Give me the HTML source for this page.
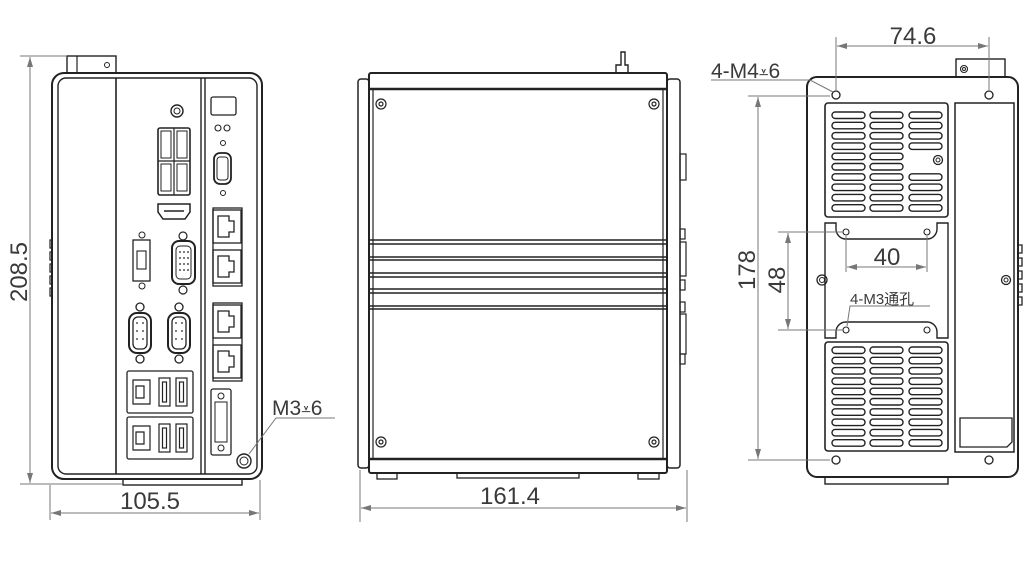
<!DOCTYPE html>
<html><head><meta charset="utf-8"><style>
html,body{margin:0;padding:0;background:#fff;}
svg{display:block;}
text{font-family:"Liberation Sans","Noto Sans CJK SC",sans-serif;fill:#3a3a3a;}
</style></head><body>
<svg width="1024" height="562" viewBox="0 0 1024 562" xmlns="http://www.w3.org/2000/svg">
<defs>
<marker id="ar" viewBox="0 0 10 6" refX="10" refY="3" markerWidth="10" markerHeight="6" orient="auto-start-reverse" markerUnits="userSpaceOnUse"><path d="M0,0 L10,3 L0,6 Z" fill="#777"/></marker>
<g id="row3" fill="none" stroke="#222" stroke-width="1.4"><rect x="832" y="0" width="33" height="6.5" rx="3.2"/><rect x="870" y="0" width="33" height="6.5" rx="3.2"/><rect x="909" y="0" width="33" height="6.5" rx="3.2"/></g>
<g id="row2" fill="none" stroke="#222" stroke-width="1.4"><rect x="832" y="0" width="33" height="6.5" rx="3.2"/><rect x="870" y="0" width="33" height="6.5" rx="3.2"/></g>
<g id="lan" fill="none" stroke="#222" stroke-width="1.3"><rect x="0" y="0" width="28" height="33"/><path d="M5,6 H16 V11 H21 V22 H16 V27 H5 Z"/></g>
<g id="usbv" fill="none" stroke="#222" stroke-width="1.2"><rect x="0" y="0" width="11" height="28"/><rect x="3.5" y="4" width="4" height="20"/></g>
<g id="db9" fill="none" stroke="#222" stroke-width="1.3"><circle cx="12" cy="4" r="4"/><circle cx="12" cy="56" r="4"/><rect x="1" y="10" width="22" height="40" rx="8" stroke-width="2"/><rect x="5" y="14" width="14" height="32" rx="5"/></g>
<g id="scr" fill="none" stroke="#222" stroke-width="1.2"><circle r="5"/><circle r="2"/></g>
</defs>

<!-- ============ LEFT VIEW ============ -->
<g fill="none" stroke="#222">
<rect x="67" y="56" width="49" height="17" stroke-width="1.4"/>
<line x1="77" y1="56" x2="77" y2="73" stroke-width="1.2"/>
<circle cx="107" cy="65" r="2.5" stroke-width="1"/>
<rect x="52" y="73" width="210" height="406" rx="12" stroke-width="2"/>
<rect x="58" y="78" width="199" height="396" rx="8" stroke-width="1.4"/>
<line x1="116" y1="78" x2="116" y2="474" stroke-width="1.6"/>
<line x1="201" y1="78" x2="201" y2="474" stroke-width="1.4"/>
<line x1="205" y1="78" x2="205" y2="474" stroke-width="1.4"/>
<rect x="123" y="479" width="119" height="6" stroke-width="1.4"/>
<path d="M52,240 h-2 v8 h2 M52,252 h-2 v8 h2 M52,264 h-2 v8 h2 M52,276 h-2 v8 h2 M52,288 h-2 v8 h2" stroke-width="1.2"/>
<circle cx="177" cy="111" r="6" stroke-width="1.4"/><circle cx="177" cy="111" r="3" stroke-width="1"/>
<rect x="158" y="128" width="32" height="67" rx="2" stroke-width="1.6"/>
<line x1="158" y1="161" x2="190" y2="161" stroke-width="1.2"/>
<line x1="174" y1="128" x2="174" y2="195" stroke-width="1.2"/>
<rect x="161" y="131" width="10" height="27" stroke-width="1"/><rect x="177" y="131" width="10" height="27" stroke-width="1"/>
<rect x="161" y="164" width="10" height="27" stroke-width="1"/><rect x="177" y="164" width="10" height="27" stroke-width="1"/>
<path d="M158,204 h32 v8 l-5,7 h-22 l-5,-7 z" stroke-width="1.5"/>
<line x1="164" y1="211" x2="184" y2="211" stroke-width="1.5"/>
<circle cx="142" cy="235" r="3" stroke-width="1"/>
<rect x="133" y="240" width="17" height="41" stroke-width="1.3"/>
<rect x="137" y="251" width="9" height="18" stroke-width="1.1"/>
<circle cx="142" cy="286" r="3" stroke-width="1"/>
<circle cx="183" cy="236" r="4" stroke-width="1.2"/>
<rect x="172" y="241" width="23" height="43" rx="7" stroke-width="2"/>
<rect x="176" y="246" width="15" height="33" rx="4" stroke-width="1"/>
<circle cx="183" cy="290" r="4" stroke-width="1.2"/>
</g>
<g fill="#555">
<circle cx="180" cy="252" r="1"/><circle cx="184" cy="252" r="1"/><circle cx="188" cy="252" r="1"/>
<circle cx="180" cy="258" r="1"/><circle cx="184" cy="258" r="1"/><circle cx="188" cy="258" r="1"/>
<circle cx="180" cy="264" r="1"/><circle cx="184" cy="264" r="1"/><circle cx="188" cy="264" r="1"/>
<circle cx="180" cy="270" r="1"/><circle cx="184" cy="270" r="1"/><circle cx="188" cy="270" r="1"/>
</g>
<use href="#db9" x="128" y="303"/>
<use href="#db9" x="167" y="303"/>
<g fill="#555"><circle cx="137" cy="323" r="1"/><circle cx="143" cy="323" r="1"/><circle cx="137" cy="331" r="1"/><circle cx="143" cy="331" r="1"/><circle cx="137" cy="339" r="1"/><circle cx="143" cy="339" r="1"/>
<circle cx="176" cy="323" r="1"/><circle cx="182" cy="323" r="1"/><circle cx="176" cy="331" r="1"/><circle cx="182" cy="331" r="1"/><circle cx="176" cy="339" r="1"/><circle cx="182" cy="339" r="1"/></g>
<g fill="none" stroke="#222">
<rect x="127" y="371" width="66" height="42" rx="2" stroke-width="1.3"/>
<rect x="127" y="417" width="66" height="42" rx="2" stroke-width="1.3"/>
<path d="M133,380 h17 v24 h-17 z M136,386 h8 v12 h-8 z" stroke-width="1.2"/>
<path d="M133,426 h17 v24 h-17 z M136,432 h8 v12 h-8 z" stroke-width="1.2"/>
</g>
<use href="#usbv" x="159" y="378"/><use href="#usbv" x="176" y="378"/>
<use href="#usbv" x="159" y="424"/><use href="#usbv" x="176" y="424"/>
<g fill="none" stroke="#222">
<rect x="211" y="97" width="25" height="18" rx="2" stroke-width="1.3"/>
<circle cx="218" cy="128" r="3" stroke-width="1.1"/><circle cx="227" cy="128" r="3" stroke-width="1.1"/>
<circle cx="223" cy="143" r="2.5" stroke-width="1"/>
<rect x="214" y="153" width="17" height="31" rx="6" stroke-width="1.8"/>
<rect x="217" y="157" width="11" height="23" rx="3" stroke-width="1"/>
<circle cx="223" cy="193" r="2.5" stroke-width="1"/>
<rect x="213" y="208" width="29" height="78" stroke-width="1.3"/>
<rect x="213" y="303" width="29" height="78" stroke-width="1.3"/>
<rect x="211" y="389" width="20" height="66" rx="2" stroke-width="1.3"/>
<circle cx="221" cy="396" r="3" stroke-width="1"/><circle cx="221" cy="448" r="3" stroke-width="1"/>
<rect x="215" y="402" width="12" height="40" stroke-width="1"/>
<circle cx="244" cy="461" r="7" stroke-width="1.4"/><circle cx="244" cy="461" r="4" stroke-width="1"/>
</g>
<use href="#lan" x="213" y="210"/><use href="#lan" x="213" y="250"/>
<use href="#lan" x="213" y="305"/><use href="#lan" x="213" y="345"/>
<!-- dims left -->
<g stroke="#777" stroke-width="1" fill="none">
<line x1="20" y1="56" x2="67" y2="56"/><line x1="20" y1="484" x2="123" y2="484"/>
<line x1="30" y1="57" x2="30" y2="483" marker-start="url(#ar)" marker-end="url(#ar)"/>
<line x1="50" y1="485" x2="50" y2="520"/><line x1="260" y1="480" x2="260" y2="520"/>
<line x1="51" y1="513" x2="259" y2="513" marker-start="url(#ar)" marker-end="url(#ar)"/>
<polyline points="335,418 276,418 249,454"/>
</g>
<text x="0" y="0" font-size="24" text-anchor="middle" transform="translate(27,272) rotate(-90)">208.5</text>
<text x="150" y="509" font-size="24" text-anchor="middle">105.5</text>
<text x="272" y="415" font-size="21">M3<tspan font-family="DejaVu Sans" font-size="17">⩡</tspan>6</text>

<!-- ============ MIDDLE VIEW ============ -->
<g fill="none" stroke="#222">
<rect x="358" y="79" width="11" height="389" rx="3" stroke-width="1.5"/>
<rect x="667" y="79" width="13" height="389" rx="3" stroke-width="1.5"/>
<rect x="369" y="73" width="298" height="400" rx="2" stroke-width="2"/>
<line x1="369" y1="89" x2="667" y2="89" stroke-width="2.5"/>
<line x1="369" y1="459" x2="667" y2="459" stroke-width="2.5"/>
<line x1="373" y1="90" x2="373" y2="458" stroke-width="1.2"/>
<line x1="663" y1="90" x2="663" y2="458" stroke-width="1.2"/>
<g stroke-width="1.4">
<line x1="369" y1="240" x2="667" y2="240"/><line x1="369" y1="244" x2="667" y2="244"/>
<line x1="369" y1="257" x2="667" y2="257"/><line x1="369" y1="260" x2="667" y2="260"/>
<line x1="369" y1="273" x2="667" y2="273"/><line x1="369" y1="277" x2="667" y2="277"/>
<line x1="369" y1="289" x2="667" y2="289"/><line x1="369" y1="293" x2="667" y2="293"/>
<line x1="369" y1="306" x2="667" y2="306"/><line x1="369" y1="309" x2="667" y2="309"/>
</g>
<rect x="377" y="473" width="20" height="6" stroke-width="1.3"/>
<rect x="638" y="473" width="21" height="6" stroke-width="1.3"/>
<rect x="457" y="473" width="122" height="5" stroke-width="1.3"/>
<path d="M616,73 v-8 h5 v-13 h4 v13 h3 v8" stroke-width="1.4"/>
<rect x="680" y="154" width="6" height="26" stroke-width="1.2"/>
<rect x="680" y="229" width="5" height="10" stroke-width="1.2"/>
<rect x="680" y="242" width="6" height="34" stroke-width="1.2"/>
<rect x="680" y="280" width="5" height="10" stroke-width="1.2"/>
<rect x="680" y="302" width="5" height="10" stroke-width="1.2"/>
<rect x="680" y="314" width="6" height="40" stroke-width="1.2"/>
<rect x="680" y="354" width="5" height="10" stroke-width="1.2"/>
</g>
<use href="#scr" x="381" y="104"/><use href="#scr" x="654" y="104"/>
<use href="#scr" x="381" y="442"/><use href="#scr" x="654" y="442"/>
<g stroke="#777" stroke-width="1" fill="none">
<line x1="360" y1="470" x2="360" y2="522"/><line x1="687" y1="470" x2="687" y2="522"/>
<line x1="361" y1="508" x2="686" y2="508" marker-start="url(#ar)" marker-end="url(#ar)"/>
</g>
<text x="510" y="504" font-size="24" text-anchor="middle">161.4</text>

<!-- ============ RIGHT VIEW ============ -->
<g fill="none" stroke="#222">
<rect x="956" y="59" width="49" height="18" stroke-width="1.4"/>
<circle cx="964" cy="69" r="3.5" stroke-width="1.1"/><circle cx="964" cy="69" r="1.5" stroke-width="1"/>
<rect x="807" y="77" width="211" height="400" rx="10" stroke-width="2"/>
<rect x="825" y="477" width="123" height="7" stroke-width="1.4"/>
<rect x="955" y="103" width="59" height="349" stroke-width="1.5"/>
<path d="M960,418 h52 v24 l-5,5 h-47 z" stroke-width="1.3"/>
<rect x="825" y="103" width="123" height="114" rx="3" stroke-width="1.6"/>
<rect x="825" y="342" width="123" height="109" rx="3" stroke-width="1.6"/>
<path d="M825,223 h11 v6 a10,10 0 0 0 10,10 h81 a10,10 0 0 0 10,-10 v-6 h11 v115 h-11 v-6 a10,10 0 0 0 -10,-10 h-81 a10,10 0 0 0 -10,10 v6 h-11 z" stroke-width="1.4"/>
<circle cx="846" cy="232" r="3" stroke-width="1.1"/><circle cx="927" cy="232" r="3" stroke-width="1.1"/>
<circle cx="846" cy="330" r="3" stroke-width="1.1"/><circle cx="927" cy="330" r="3" stroke-width="1.1"/>
<circle cx="836" cy="95" r="4" stroke-width="1.3"/><circle cx="989" cy="95" r="4" stroke-width="1.3"/>
<circle cx="836" cy="460" r="4" stroke-width="1.3"/><circle cx="989" cy="460" r="4" stroke-width="1.3"/>
<circle cx="938" cy="160" r="4.5" stroke-width="1.3"/><circle cx="938" cy="160" r="2" stroke-width="1"/>
<circle cx="822" cy="280" r="5" stroke-width="1.3"/><circle cx="822" cy="280" r="2.5" stroke-width="1"/>
<circle cx="1006" cy="280" r="4.5" stroke-width="1.3"/><circle cx="1006" cy="280" r="2" stroke-width="1"/>
<path d="M1018,245 h4 v8 h-4 M1018,258 h4 v8 h-4 M1018,271 h4 v8 h-4 M1018,284 h4 v8 h-4 M1018,297 h4 v8 h-4" stroke-width="1.3"/>
</g>
<use href="#row3" y="112"/><use href="#row3" y="122.3"/><use href="#row3" y="132.6"/><use href="#row3" y="142.9"/>
<use href="#row2" y="153.2"/><use href="#row2" y="163.5"/>
<use href="#row3" y="173.8"/><use href="#row3" y="184.1"/><use href="#row3" y="194.4"/><use href="#row3" y="204.7"/>
<use href="#row3" y="347"/><use href="#row3" y="357.3"/><use href="#row3" y="367.6"/><use href="#row3" y="377.9"/><use href="#row3" y="388.2"/>
<use href="#row3" y="398.5"/><use href="#row3" y="408.8"/><use href="#row3" y="419.1"/><use href="#row3" y="429.4"/><use href="#row3" y="439.7"/>
<g stroke="#777" stroke-width="1" fill="none">
<line x1="836" y1="37" x2="836" y2="91"/><line x1="989" y1="37" x2="989" y2="91"/>
<line x1="837" y1="46" x2="988" y2="46" marker-start="url(#ar)" marker-end="url(#ar)"/>
<polyline points="711,80 810,80 833,92"/>
<line x1="748" y1="96" x2="830" y2="96"/><line x1="748" y1="460" x2="830" y2="460"/>
<line x1="758" y1="97" x2="758" y2="459" marker-start="url(#ar)" marker-end="url(#ar)"/>
<line x1="778" y1="232" x2="843" y2="232"/><line x1="778" y1="330" x2="843" y2="330"/>
<line x1="788" y1="233" x2="788" y2="329" marker-start="url(#ar)" marker-end="url(#ar)"/>
<line x1="846" y1="236" x2="846" y2="272"/><line x1="927" y1="236" x2="927" y2="272"/>
<line x1="847" y1="267" x2="926" y2="267" marker-start="url(#ar)" marker-end="url(#ar)"/>
<polyline points="930,306 850,306 847,326"/>
</g>
<text x="913" y="44" font-size="24" text-anchor="middle">74.6</text>
<text x="711" y="78" font-size="21">4-M4<tspan font-family="DejaVu Sans" font-size="17">⩡</tspan>6</text>
<text x="0" y="0" font-size="24" text-anchor="middle" transform="translate(755,270) rotate(-90)">178</text>
<text x="0" y="0" font-size="24" text-anchor="middle" transform="translate(785,280) rotate(-90)">48</text>
<text x="887" y="265" font-size="24" text-anchor="middle">40</text>
<text x="850" y="304" font-size="15">4-M3通孔</text>
</svg>
</body></html>
